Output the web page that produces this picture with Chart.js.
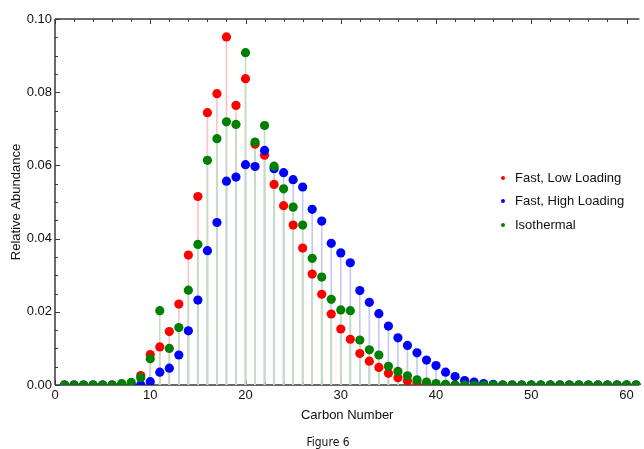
<!DOCTYPE html>
<html>
<head>
<meta charset="utf-8">
<script src="https://cdn.jsdelivr.net/npm/chart.js@4.4.1/dist/chart.umd.min.js"></script>
<style>
html,body{margin:0;padding:0;background:#fff;}
#wrap{position:relative;width:644px;height:449px;overflow:hidden;background:#fff;}
#c{position:absolute;left:0;top:0;}
.lg{position:absolute;font-family:"Liberation Sans",Arial,sans-serif;font-size:13px;color:#111;line-height:16px;white-space:nowrap;}
.dot{position:absolute;width:4px;height:4px;border-radius:50%;}
#cap{position:absolute;left:0;width:656px;top:434px;text-align:center;font-family:"Liberation Sans Narrow","DejaVu Sans Condensed","Liberation Sans",sans-serif;font-size:12px;color:#111;line-height:16px;}
</style>
</head>
<body>
<div id="wrap">
<canvas id="c" width="644" height="449"></canvas>
<div class="dot" style="left:501px;top:175.5px;background:rgb(255,0,0)"></div>
<div class="lg" style="left:515px;top:169.5px">Fast, Low Loading</div>
<div class="dot" style="left:501px;top:199px;background:rgb(0,0,255)"></div>
<div class="lg" style="left:515px;top:193px">Fast, High Loading</div>
<div class="dot" style="left:501px;top:222.5px;background:rgb(0,128,0)"></div>
<div class="lg" style="left:515px;top:216.5px">Isothermal</div>
<div id="cap">Figure 6</div>
</div>
<script>
const carbonNumbers = [1,2,3,4,5,6,7,8,9,10,11,12,13,14,15,16,17,18,19,20,21,22,23,24,25,26,27,28,29,30,31,32,33,34,35,36,37,38,39,40,41,42,43,44,45,46,47,48,49,50,51,52,53,54,55,56,57,58,59,60,61];

const fastLowLoading = [0,0,0,0,0,0,0,0.0003,0.0026,0.0083,0.0104,0.0146,0.0221,0.0355,0.0515,0.0744,0.0796,0.0951,0.0764,0.0837,0.0658,0.0628,0.0548,0.0490,0.0437,0.0374,0.0303,0.0248,0.0194,0.0153,0.0125,0.0086,0.0065,0.0048,0.0032,0.0020,0.0011,0.0005,0.0002,0,0,0,0,0,0,0,0,0,0,0,0,0,0,0,0,0,0,0,0,0,0];

const fastHighLoading = [0,0,0,0,0,0,0,0,0.0001,0.0009,0.0035,0.0046,0.0082,0.0148,0.0232,0.0367,0.0444,0.0557,0.0568,0.0602,0.0597,0.0641,0.0591,0.0580,0.0561,0.0541,0.0480,0.0448,0.0387,0.0361,0.0334,0.0258,0.0226,0.0195,0.0161,0.0129,0.0108,0.0088,0.0068,0.0053,0.0035,0.0023,0.0012,0.0008,0.0004,0.0002,0,0,0,0,0,0,0,0,0,0,0,0,0,0,0];

const isothermal = [0,0,0,0,0,0,0.0004,0.0007,0.0020,0.0072,0.0203,0.0100,0.0157,0.0259,0.0384,0.0614,0.0673,0.0719,0.0712,0.0908,0.0664,0.0709,0.0598,0.0536,0.0486,0.0437,0.0346,0.0295,0.0234,0.0205,0.0203,0.0123,0.0096,0.0082,0.0051,0.0037,0.0025,0.0014,0.0008,0.0004,0.0002,0,0,0,0,0,0,0,0,0,0,0,0,0,0,0,0,0,0,0,0];

const seriesNames = ["Fast, Low Loading", "Fast, High Loading", "Isothermal"];
const xTickValues = [0,10,20,30,40,50,60];
const yTickLabels = ["0.00","0.02","0.04","0.06","0.08","0.10"];

const X_MIN = 0, X_MAX = 61.35, Y_MIN = 0, Y_MAX = 0.1;
const X_MINOR_STEP = 2, Y_MINOR_STEP = 0.005;

function pts(arr){ return carbonNumbers.map((n,i)=>({x:n, y:arr[i]})); }

const pointColors = ['rgb(255,0,0)','rgb(0,0,255)','rgb(0,128,0)'];
const stemColors = ['rgb(250,195,195)','rgb(200,200,248)','rgb(192,224,192)'];
const seriesData = [fastLowLoading, fastHighLoading, isothermal];

const datasets = [];
seriesData.forEach((arr, k) => {
  datasets.push({
    type: 'bar',
    label: seriesNames[k] + ' stem',
    data: pts(arr),
    backgroundColor: stemColors[k],
    borderWidth: 0,
    barThickness: 1,
    grouped: false,
    order: 10 - k
  });
});
seriesData.forEach((arr, k) => {
  datasets.push({
    type: 'scatter',
    label: seriesNames[k],
    data: pts(arr),
    backgroundColor: pointColors[k],
    borderWidth: 0,
    pointRadius: 4.6,
    pointHoverRadius: 4.6,
    clip: {left: 6, top: 6, right: 6, bottom: 0},
    order: 3 - k
  });
});

const FONT = {family: '"Liberation Sans", Arial, sans-serif', size: 13};
const FRAME_COLOR = '#3a3a3a';

const framePlugin = {
  id: 'frame',
  beforeDatasetsDraw(chart){
    const {ctx, chartArea: a, scales: {x, y}} = chart;
    ctx.save();
    ctx.strokeStyle = FRAME_COLOR;
    ctx.lineWidth = 1;
    ctx.beginPath();
    for (let v = X_MIN; v <= 60 + 1e-9; v += X_MINOR_STEP) {
      const px = Math.round(x.getPixelForValue(v)) + 0.5;
      const len = (Math.round(v) % 10 === 0) ? 5 : 3;
      ctx.moveTo(px, a.bottom); ctx.lineTo(px, a.bottom - len);
      ctx.moveTo(px, a.top); ctx.lineTo(px, a.top + len);
    }
    for (let i = 0; i <= Math.round((Y_MAX - Y_MIN) / Y_MINOR_STEP); i++) {
      const py = Math.round(y.getPixelForValue(Y_MIN + i * Y_MINOR_STEP)) + 0.5;
      const len = (i % 4 === 0) ? 5 : 3;
      ctx.moveTo(a.left, py); ctx.lineTo(a.left + len, py);
    }
    ctx.stroke();
    ctx.lineWidth = 1.5;
    ctx.beginPath();
    ctx.moveTo(a.left, a.top); ctx.lineTo(a.right, a.top);
    ctx.moveTo(a.left, a.top); ctx.lineTo(a.left, a.bottom);
    ctx.moveTo(a.left, a.bottom); ctx.lineTo(a.right, a.bottom);
    ctx.stroke();
    ctx.restore();
  }
};

new Chart(document.getElementById('c'), {
  type: 'scatter',
  data: { datasets },
  options: {
    responsive: false,
    animation: false,
    events: [],
    layout: { padding: { top: 19, right: 0, bottom: 0, left: 0 } },
    plugins: { legend: { display: false }, tooltip: { enabled: false } },
    scales: {
      x: {
        type: 'linear',
        min: X_MIN, max: X_MAX,
        offset: false,
        grid: { display: false, drawTicks: false },
        border: { display: false },
        afterBuildTicks: (s) => { s.ticks = xTickValues.map(v => ({value: v})); },
        afterFit: (s) => { s.height = 64; },
        ticks: { font: FONT, color: '#111', padding: 3, maxRotation: 0, autoSkip: false,
                 callback: (v) => String(v) },
        title: { display: true, text: 'Carbon Number', font: FONT, color: '#111', padding: { top: 0, bottom: 26 } }
      },
      y: {
        type: 'linear',
        min: Y_MIN, max: Y_MAX,
        grid: { display: false, drawTicks: false },
        border: { display: false },
        afterBuildTicks: (s) => { s.ticks = yTickLabels.map(t => ({value: parseFloat(t)})); },
        afterFit: (s) => { s.width = 55; },
        ticks: { font: FONT, color: '#111', padding: 3, autoSkip: false,
                 callback: (v, i) => yTickLabels[i] },
        title: { display: true, text: 'Relative Abundance', font: FONT, color: '#111', padding: { top: 9, bottom: 0 } }
      }
    }
  },
  plugins: [framePlugin]
});
</script>
</body>
</html>
